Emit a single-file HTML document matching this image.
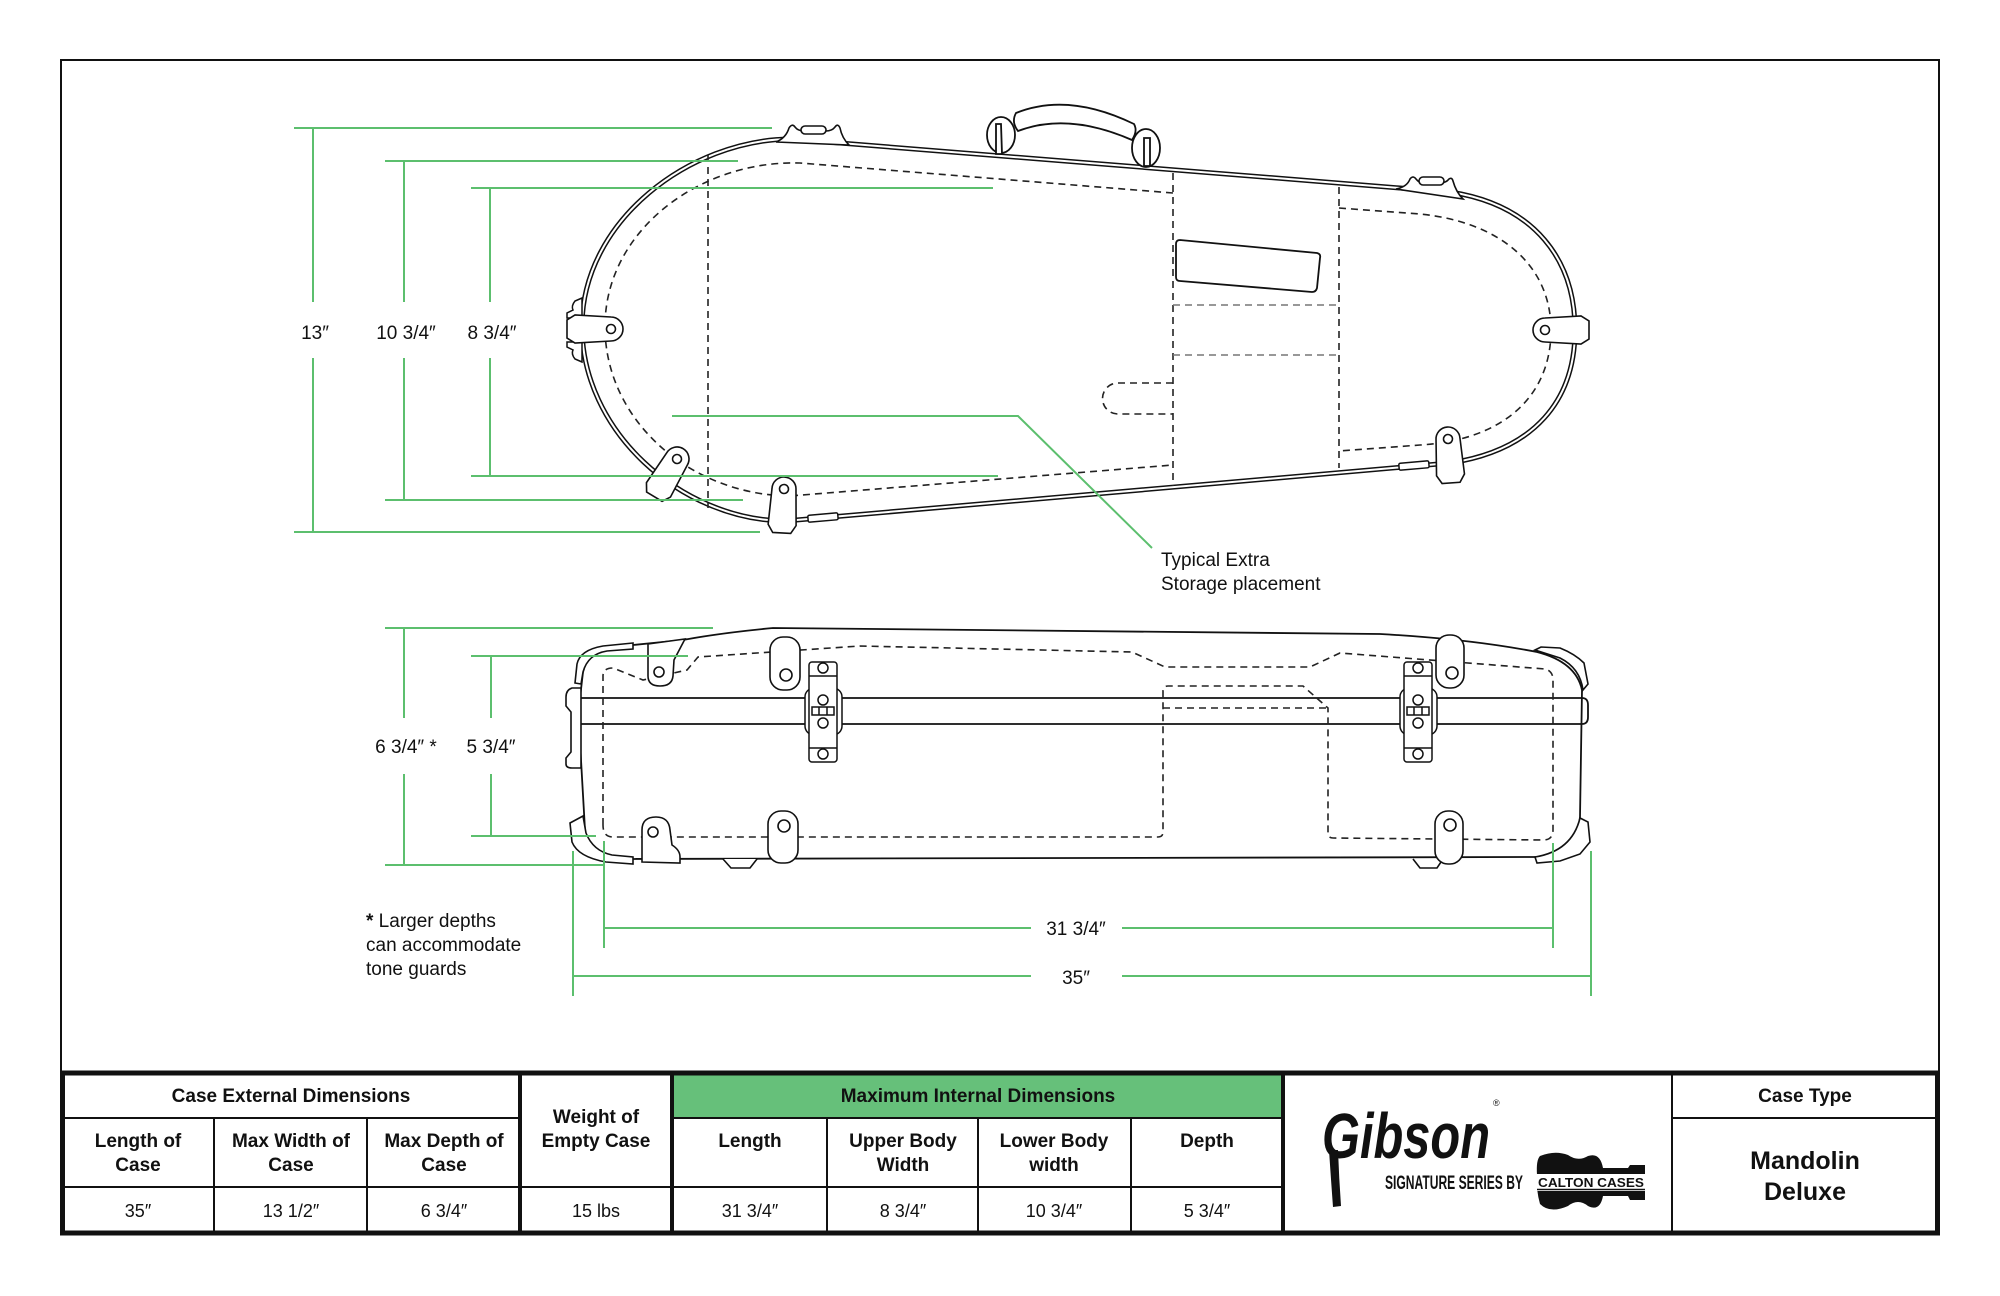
<!DOCTYPE html>
<html><head><meta charset="utf-8"><style>
html,body{margin:0;padding:0;background:#fff;}
svg{display:block;}
text{font-family:"Liberation Sans",Arial,sans-serif;}
</style></head><body>
<svg width="2000" height="1296" viewBox="0 0 2000 1296" xmlns="http://www.w3.org/2000/svg">
<rect width="2000" height="1296" fill="#fff"/>
<rect x="61" y="60" width="1878" height="1174" fill="none" stroke="#111" stroke-width="2"/>

<!-- ============ TOP VIEW CASE ============ -->
<path d="M790 139 C690 140 583 220 582 325 C581 430 680 520 785 521 L1450 463 C1535 450 1575 400 1575 330 C1575 260 1535 205 1450 192 Z" fill="none" stroke="#111" stroke-width="5"/>
<path d="M790 139 C690 140 583 220 582 325 C581 430 680 520 785 521 L1450 463 C1535 450 1575 400 1575 330 C1575 260 1535 205 1450 192 Z" fill="none" stroke="#fff" stroke-width="2"/>

<g fill="none" stroke="#222" stroke-width="1.6" stroke-dasharray="7 5">
<path d="M1173 193 L800 163 C700 160 606 230 605 325 C604 420 690 495 790 496 L1173 465"/>
<path d="M1339 208 L1420 214 C1500 222 1551 265 1551 330 C1551 395 1505 440 1420 445 L1339 451"/>
<path d="M708 155V508 M1173 173V486 M1339 187V468"/>
<path d="M1173 383 H1118 A15.5 15.5 0 0 0 1118 414 H1173"/>
</g>
<path d="M1173 305H1339 M1173 355H1339" stroke="#777" stroke-width="1.6" stroke-dasharray="7 5" fill="none"/>
<path d="M1180 240 L1317 253 Q1321 254 1320 258 L1317 288 Q1316 292 1312 292 L1180 281 Q1176 281 1176 277 L1176 244 Q1176 240 1180 240 Z" fill="none" stroke="#111" stroke-width="1.8"/>

<!-- handle -->
<g fill="#fff" stroke="#111" stroke-width="1.8">
<ellipse cx="1001" cy="135" rx="14" ry="18"/>
<ellipse cx="1146" cy="148" rx="14" ry="19"/>
<path d="M996 124 H1001 L1002 154 H996 Z"/>
<path d="M1144 138 H1150 L1150 166 H1144 Z"/>
<path d="M1016 113 Q1068 92 1134 124 Q1138 131 1132 140 Q1068 112 1018 131 Q1011 122 1016 113 Z"/>
</g>

<!-- top latches -->
<g fill="#fff" stroke="#111" stroke-width="1.6">
<path d="M776 142 Q786 138 789 128 Q792 123 795 127 Q798 131 804 131 L826 131 Q832 131 835 127 Q838 123 840 128 Q842 138 849 145 Z"/>
<rect x="801" y="126" width="25" height="8" rx="4"/>
<path d="M1396 189 Q1407 187 1410 179 Q1413 175 1416 179 Q1419 183 1424 183 L1440 183 Q1446 183 1449 179 Q1452 177 1453 181 Q1456 192 1463 199 Z"/>
<rect x="1419" y="177" width="25" height="8" rx="4"/>
</g>

<!-- end cleats -->
<g fill="#fff" stroke="#111" stroke-width="1.5">
<path d="M582 298 L575 301 Q571 306 573 310 L567 313 L567 318 L582 318 Z"/>
<path d="M582 362 L575 359 Q571 354 573 350 L567 347 L567 342 L582 342 Z"/>
<rect x="808" y="514" width="30" height="7" rx="1.5" transform="rotate(-5 823 518)"/>
<rect x="1399" y="462" width="30" height="7" rx="1.5" transform="rotate(-5 1414 466)"/>
</g>

<!-- tabs top view -->
<g fill="#fff" stroke="#111" stroke-width="1.6">
<g transform="translate(611 329) rotate(90)"><path d="M-12 0 A12 12 0 0 1 12 0 L14 36 L9 44 L-9 44 L-14 36 Z"/><circle r="4.5"/></g>
<g transform="translate(1545 330) rotate(-90)"><path d="M-12 0 A12 12 0 0 1 12 0 L14 36 L9 44 L-9 44 L-14 36 Z"/><circle r="4.5"/></g>
<g transform="translate(677 459) rotate(31)"><path d="M-12 0 A12 12 0 0 1 12 0 L14 36 L9 44 L-9 44 L-14 36 Z"/><circle r="4.5"/></g>
<g transform="translate(784 489) rotate(3)"><path d="M-12 0 A12 12 0 0 1 12 0 L14 36 L9 44 L-9 44 L-14 36 Z"/><circle r="4.5"/></g>
<g transform="translate(1448 439) rotate(-4)"><path d="M-12 0 A12 12 0 0 1 12 0 L14 36 L9 44 L-9 44 L-14 36 Z"/><circle r="4.5"/></g>
</g>

<!-- ============ SIDE VIEW CASE ============ -->
<path d="M633 645 L683 640 Q720 633 773 628 L1380 634 Q1470 639 1537 652 Q1576 662 1582 690 L1580 817 Q1577 851 1540 857 L607 859 Q588 855 585 830 L579 725 L580 698 L583 672 Q588 652 605 648 Z" fill="#fff" stroke="#111" stroke-width="1.8"/>
<path d="M576 698 H1582 Q1588 698 1588 705 V717 Q1588 724 1582 724 H576" fill="none" stroke="#111" stroke-width="1.8"/>
<g fill="none" stroke="#222" stroke-width="1.6" stroke-dasharray="7 5">
<path d="M603 825 V676 Q603 668 613 668 L643 680 L687 670 L698 657 L860 646 L1132 652 L1165 667 L1310 667 L1340 653 L1545 669 Q1553 671 1553 680 V830 Q1553 840 1543 840 L1333 838 Q1328 838 1328 833 V708 L1303 686 H1168 Q1163 686 1163 691 V832 Q1163 837 1158 837 H613 Q603 837 603 825 Z"/>
<path d="M1163 708 H1328"/>
</g>

<g fill="#fff" stroke="#111" stroke-width="1.6">
<!-- bumpers -->
<path d="M633 643 L603 646 Q580 650 577 664 L575 683 L581 684 L583 672 Q588 654 607 651 L633 649 Z"/>
<path d="M581 688 L572 688 Q566 690 566 697 L566 706 L571 712 L571 752 L566 758 L566 764 Q566 768 572 768 L581 768 Z"/>
<path d="M570 823 L583 816 L586 833 Q593 851 612 855 L633 857 L633 864 L606 862 Q578 857 572 842 Z"/>
<path d="M1535 650 L1541 647 L1560 648 Q1575 654 1584 663 L1588 684 L1583 690 Q1580 668 1560 658 Z"/>
<path d="M1580 818 L1588 822 L1590 842 L1580 854 L1560 861 L1537 863 L1535 857 Q1572 851 1580 818 Z"/>
<!-- feet -->
<path d="M723 859 L731 868 L750 868 L757 859"/>
<path d="M1413 859 L1420 868 L1437 868 L1443 859"/>
<!-- top tabs -->
<path d="M648 644 L685 639 L674 660 L673 676 Q672 686 660 686 Q648 686 648 676 Z"/>
<circle cx="659" cy="672" r="5"/>
<rect x="770" y="637" width="30" height="53" rx="13"/>
<circle cx="786" cy="675" r="6"/>
<rect x="1436" y="635" width="28" height="53" rx="13"/>
<circle cx="1452" cy="673" r="6"/>
<!-- bottom tabs -->
<path d="M642 862 L642 830 Q642 817 656 817 Q669 817 670 830 L672 845 Q680 850 680 857 L680 863 Z"/>
<circle cx="653" cy="832" r="5"/>
<rect x="768" y="811" width="30" height="52" rx="13"/>
<circle cx="784" cy="826" r="6"/>
<rect x="1435" y="811" width="28" height="53" rx="13"/>
<circle cx="1450" cy="825" r="6"/>
</g>

<!-- latches -->
<g fill="#fff" stroke="#111" stroke-width="1.5">
<rect x="805" y="688" width="37" height="47" rx="9"/>
<rect x="809" y="662" width="28" height="100" rx="3"/>
<path d="M809 676 H837 M809 748 H837" fill="none"/>
<circle cx="823" cy="668" r="5"/><circle cx="823" cy="700" r="5"/><circle cx="823" cy="723" r="5"/><circle cx="823" cy="754" r="5"/>
<rect x="812" y="707" width="22" height="8"/>
<path d="M819 707 V715 M827 707 V715" fill="none"/>
<rect x="1400" y="688" width="37" height="47" rx="9"/>
<rect x="1404" y="662" width="28" height="100" rx="3"/>
<path d="M1404 676 H1432 M1404 748 H1432" fill="none"/>
<circle cx="1418" cy="668" r="5"/><circle cx="1418" cy="700" r="5"/><circle cx="1418" cy="723" r="5"/><circle cx="1418" cy="754" r="5"/>
<rect x="1407" y="707" width="22" height="8"/>
<path d="M1414 707 V715 M1422 707 V715" fill="none"/>
</g>

<!-- ============ GREEN DIMENSIONS ============ -->
<g stroke="#5cbf6e" stroke-width="2" fill="none">
<path d="M294 128H772 M313 128V302 M313 358V532 M294 532H760"/>
<path d="M385 161H738 M404 161V302 M404 358V500 M385 500H743"/>
<path d="M471 188H993 M490 188V302 M490 358V476 M471 476H998"/>
<path d="M672 416H1018L1152 548"/>
<path d="M385 628H713 M404 628V718 M404 774V865 M385 865H605"/>
<path d="M471 656H688 M491 656V718 M491 774V836 M471 836H596"/>
<path d="M604 841V948 M1553 843V948 M604 928H1031 M1122 928H1553"/>
<path d="M573 851V996 M1591 851V996 M573 976H1031 M1122 976H1591"/>
</g>

<g font-size="19" fill="#111" text-anchor="middle">
<text x="315" y="339">13″</text>
<text x="406" y="339">10 3/4″</text>
<text x="492" y="339">8 3/4″</text>
<text x="406" y="753">6 3/4″ *</text>
<text x="491" y="753">5 3/4″</text>
<text x="1076" y="935">31 3/4″</text>
<text x="1076" y="984">35″</text>
</g>
<g font-size="19" fill="#111">
<text x="1161" y="566">Typical Extra</text>
<text x="1161" y="590">Storage placement</text>
<text x="366" y="927"><tspan font-weight="bold">*</tspan> Larger depths</text>
<text x="366" y="951">can accommodate</text>
<text x="366" y="975">tone guards</text>
</g>

<!-- ============ TABLE ============ -->
<rect x="672" y="1073" width="611" height="45" fill="#66c07a"/>
<g stroke="#111" fill="none">
<path d="M62 1118H520 M672 1118H1283 M1672 1118H1938 M62 1187H1283 M214 1118V1233 M367 1118V1233 M827 1118V1233 M978 1118V1233 M1131 1118V1233 M1672 1073V1233" stroke-width="2"/>
<path d="M520 1073V1233 M672 1073V1233 M1283 1073V1233" stroke-width="4"/>
<rect x="62.5" y="1073" width="1875" height="160" stroke-width="5"/>
</g>

<g font-size="19" font-weight="bold" fill="#111" text-anchor="middle">
<text x="291" y="1102">Case External Dimensions</text>
<text x="596" y="1123">Weight of</text>
<text x="596" y="1147">Empty Case</text>
<text x="978" y="1102">Maximum Internal Dimensions</text>
<text x="1805" y="1102">Case Type</text>
<text x="138" y="1147">Length of</text><text x="138" y="1171">Case</text>
<text x="291" y="1147">Max Width of</text><text x="291" y="1171">Case</text>
<text x="444" y="1147">Max Depth of</text><text x="444" y="1171">Case</text>
<text x="750" y="1147">Length</text>
<text x="903" y="1147">Upper Body</text><text x="903" y="1171">Width</text>
<text x="1054" y="1147">Lower Body</text><text x="1054" y="1171">width</text>
<text x="1207" y="1147">Depth</text>
<text x="1805" y="1169" font-size="25">Mandolin</text>
<text x="1805" y="1200" font-size="25">Deluxe</text>
</g>
<g font-size="18" fill="#111" text-anchor="middle">
<text x="138" y="1217">35″</text>
<text x="291" y="1217">13 1/2″</text>
<text x="444" y="1217">6 3/4″</text>
<text x="596" y="1217">15 lbs</text>
<text x="750" y="1217">31 3/4″</text>
<text x="903" y="1217">8 3/4″</text>
<text x="1054" y="1217">10 3/4″</text>
<text x="1207" y="1217">5 3/4″</text>
</g>

<!-- logo -->
<text x="1322" y="1158" font-family="Liberation Serif, serif" font-style="italic" font-weight="bold" font-size="64" textLength="168" lengthAdjust="spacingAndGlyphs" fill="#111">Gibson</text>
<path d="M1329 1150 Q1331 1180 1333 1207 L1341 1206 Q1339 1178 1338 1150 Z" fill="#111"/>
<text x="1493" y="1106" font-size="9" fill="#111">®</text>
<text x="1385" y="1189" font-size="19" font-weight="bold" textLength="138" lengthAdjust="spacingAndGlyphs" fill="#111">SIGNATURE SERIES BY</text>
<path d="M1540 1156 Q1555 1150 1568 1155 Q1578 1162 1588 1156 Q1600 1152 1603 1168 L1628 1168 L1630 1165 L1645 1165 L1645 1200 L1630 1200 L1628 1196 L1603 1196 Q1600 1212 1588 1206 Q1578 1198 1568 1206 Q1550 1214 1540 1204 Q1536 1190 1537 1175 Q1536 1160 1540 1156 Z" fill="#111"/>
<rect x="1536" y="1174" width="110" height="17" fill="#fff"/>
<path d="M1537 1189.5 H1645" stroke="#111" stroke-width="1.5"/>
<text x="1538" y="1187" font-size="13" font-weight="bold" textLength="106" lengthAdjust="spacingAndGlyphs" fill="#111">CALTON CASES</text>
</svg>
</body></html>
